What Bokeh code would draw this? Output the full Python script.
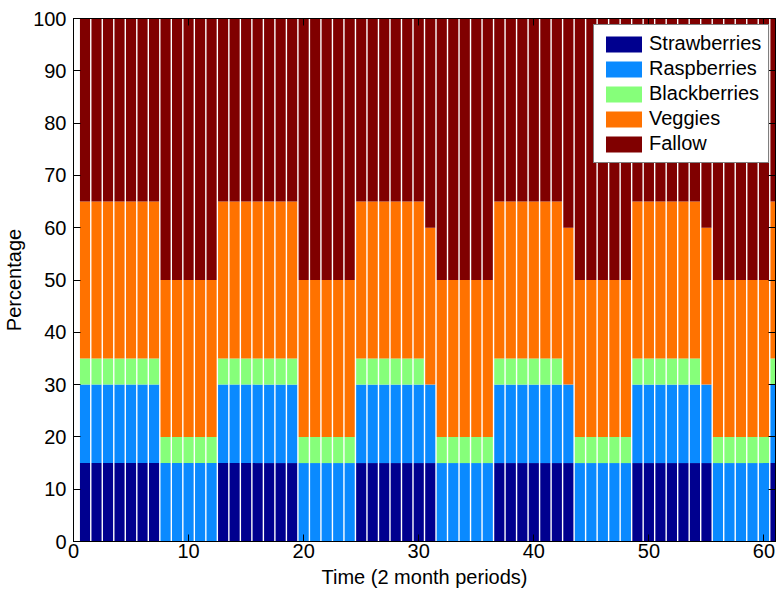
from bokeh.plotting import figure
from bokeh.models import ColumnDataSource, LinearAxis, FixedTicker, CustomJSTickFormatter, Range1d
from bokeh.embed import file_html
from bokeh.resources import INLINE

# ---- data (percent of land per 2-month period) ----
periods = list(range(1, 62))
strawberries = [15, 15, 15, 15, 15, 15, 15, 0, 0, 0, 0, 0,
                15, 15, 15, 15, 15, 15, 15, 0, 0, 0, 0, 0,
                15, 15, 15, 15, 15, 15, 15, 0, 0, 0, 0, 0,
                15, 15, 15, 15, 15, 15, 15, 0, 0, 0, 0, 0,
                15, 15, 15, 15, 15, 15, 15, 0, 0, 0, 0, 0, 15]
raspberries = [15, 15, 15, 15, 15, 15, 15, 15, 15, 15, 15, 15,
               15, 15, 15, 15, 15, 15, 15, 15, 15, 15, 15, 15,
               15, 15, 15, 15, 15, 15, 15, 15, 15, 15, 15, 15,
               15, 15, 15, 15, 15, 15, 15, 15, 15, 15, 15, 15,
               15, 15, 15, 15, 15, 15, 15, 15, 15, 15, 15, 15, 15]
blackberries = [5, 5, 5, 5, 5, 5, 5, 5, 5, 5, 5, 5,
                5, 5, 5, 5, 5, 5, 5, 5, 5, 5, 5, 5,
                5, 5, 5, 5, 5, 5, 0, 5, 5, 5, 5, 5,
                5, 5, 5, 5, 5, 5, 0, 5, 5, 5, 5, 5,
                5, 5, 5, 5, 5, 5, 0, 5, 5, 5, 5, 5, 5]
veggies = [30, 30, 30, 30, 30, 30, 30, 30, 30, 30, 30, 30,
           30, 30, 30, 30, 30, 30, 30, 30, 30, 30, 30, 30,
           30, 30, 30, 30, 30, 30, 30, 30, 30, 30, 30, 30,
           30, 30, 30, 30, 30, 30, 30, 30, 30, 30, 30, 30,
           30, 30, 30, 30, 30, 30, 30, 30, 30, 30, 30, 30, 30]
fallow = [35, 35, 35, 35, 35, 35, 35, 50, 50, 50, 50, 50,
          35, 35, 35, 35, 35, 35, 35, 50, 50, 50, 50, 50,
          35, 35, 35, 35, 35, 35, 40, 50, 50, 50, 50, 50,
          35, 35, 35, 35, 35, 35, 40, 50, 50, 50, 50, 50,
          35, 35, 35, 35, 35, 35, 40, 50, 50, 50, 50, 50, 35]

series = ["Strawberries", "Raspberries", "Blackberries", "Veggies", "Fallow"]
colors = ["#00008F", "#0A8AFF", "#86FF7A", "#FF7200", "#800000"]
x_ticks = [0, 10, 20, 30, 40, 50, 60]
y_ticks = [0, 10, 20, 30, 40, 50, 60, 70, 80, 90, 100]

source = ColumnDataSource(dict(period=periods, Strawberries=strawberries,
                               Raspberries=raspberries, Blackberries=blackberries,
                               Veggies=veggies, Fallow=fallow))

FONT = "Liberation Sans"
FS = "20px"

p = figure(width=782, height=592, output_backend="svg", toolbar_location=None,
           x_range=Range1d(0, 61), y_range=Range1d(0, 100),
           min_border_left=73, min_border_right=7, min_border_top=18, min_border_bottom=51)

p.vbar_stack(series, x="period", width=0.88, source=source, color=colors,
             line_width=0, legend_label=series)

p.xgrid.visible = False
p.ygrid.visible = False
p.outline_line_color = "black"
p.outline_line_width = 1
p.background_fill_color = "white"
p.border_fill_color = "white"

def style_axis(ax, ticks, show_labels=True):
    ax.ticker = FixedTicker(ticks=ticks)
    ax.major_tick_in = 7
    ax.major_tick_out = 0
    ax.minor_tick_line_color = None
    ax.axis_line_color = "black"
    ax.major_tick_line_color = "black"
    ax.major_label_text_font = FONT
    ax.major_label_text_font_size = FS
    ax.major_label_text_color = "black"
    if not show_labels:
        ax.formatter = CustomJSTickFormatter(code="return ''")

style_axis(p.xaxis[0], x_ticks)
style_axis(p.yaxis[0], y_ticks)
p.xaxis[0].major_label_standoff = 2
p.yaxis[0].major_label_standoff = 7
p.xaxis.axis_label = "Time (2 month periods)"
p.yaxis.axis_label = "Percentage"
for ax in (p.xaxis[0], p.yaxis[0]):
    ax.axis_label_text_font = FONT
    ax.axis_label_text_font_size = FS
    ax.axis_label_text_font_style = "normal"
    ax.axis_label_text_color = "black"
p.xaxis[0].axis_label_standoff = 5
p.yaxis[0].axis_label_standoff = 5

right_ax = LinearAxis()
style_axis(right_ax, y_ticks, show_labels=False)
p.add_layout(right_ax, "right")
top_ax = LinearAxis()
style_axis(top_ax, x_ticks, show_labels=False)
p.add_layout(top_ax, "above")

lg = p.legend[0]
lg.location = (520, 378)
lg.label_text_font = FONT
lg.label_text_font_size = FS
lg.label_text_color = "black"
lg.glyph_width = 45
lg.glyph_height = 20
lg.label_standoff = 3
lg.spacing = 2
lg.padding = 7
lg.margin = 0
lg.border_line_color = "black"
lg.border_line_width = 1
lg.background_fill_color = "white"
lg.background_fill_alpha = 1.0

open("out.html", "w").write(file_html(p, INLINE))
